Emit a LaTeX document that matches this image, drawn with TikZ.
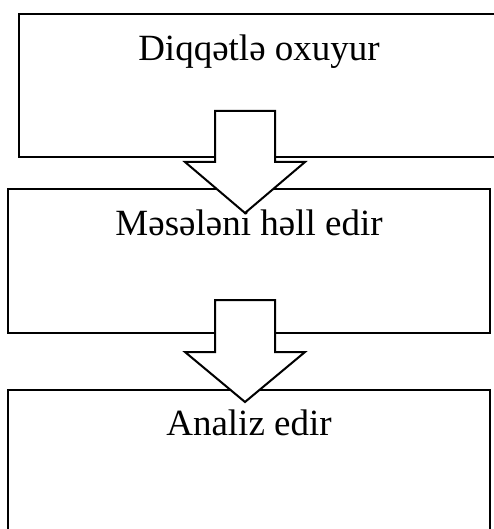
\documentclass[tikz,border=0pt]{standalone}
\usepackage{fontspec}
\setmainfont{Liberation Serif}
\usetikzlibrary{positioning}

\begin{document}
\begin{tikzpicture}[x=1pt,y=-1pt,
		stage/.style={draw, line width=2pt, minimum width=#1, minimum height=143pt, inner sep=0pt},
		caption/.style={anchor=base, inner sep=0pt, font=\fontsize{37}{44}\selectfont},
		blockarrow/.style={draw, fill=white, line width=2pt, line join=miter}]
		\useasboundingbox (0,0) rectangle (494,529);
		\clip (0,0) rectangle (494,529);
		% boxes
		\node[stage=480pt] (read) at (259,85.75) {};
		\node[stage=482pt] (solve) at (249,261) {};
		\node[stage=482pt] (analyse) at (249,461) {};
		\node[caption] (readtxt) at ([yshift=-47pt]read.north) {Diqqətlə oxuyur};
		\node[caption] (solvetxt) at ([yshift=-46.5pt]solve.north) {Məsələni həll edir};
		\node[caption] (analysetxt) at ([yshift=-46.5pt]analyse.north) {Analiz edir};
		% arrows
		\draw[blockarrow] (215,111) -- (275,111) -- (275,162) -- (305,162) -- (245,213) -- (185,162) -- (215,162) -- cycle;
		\draw[blockarrow] (215,300) -- (275,300) -- (275,352) -- (305,352) -- (245,402) -- (185,352) -- (215,352) -- cycle;
		\end{tikzpicture}
\end{document}
